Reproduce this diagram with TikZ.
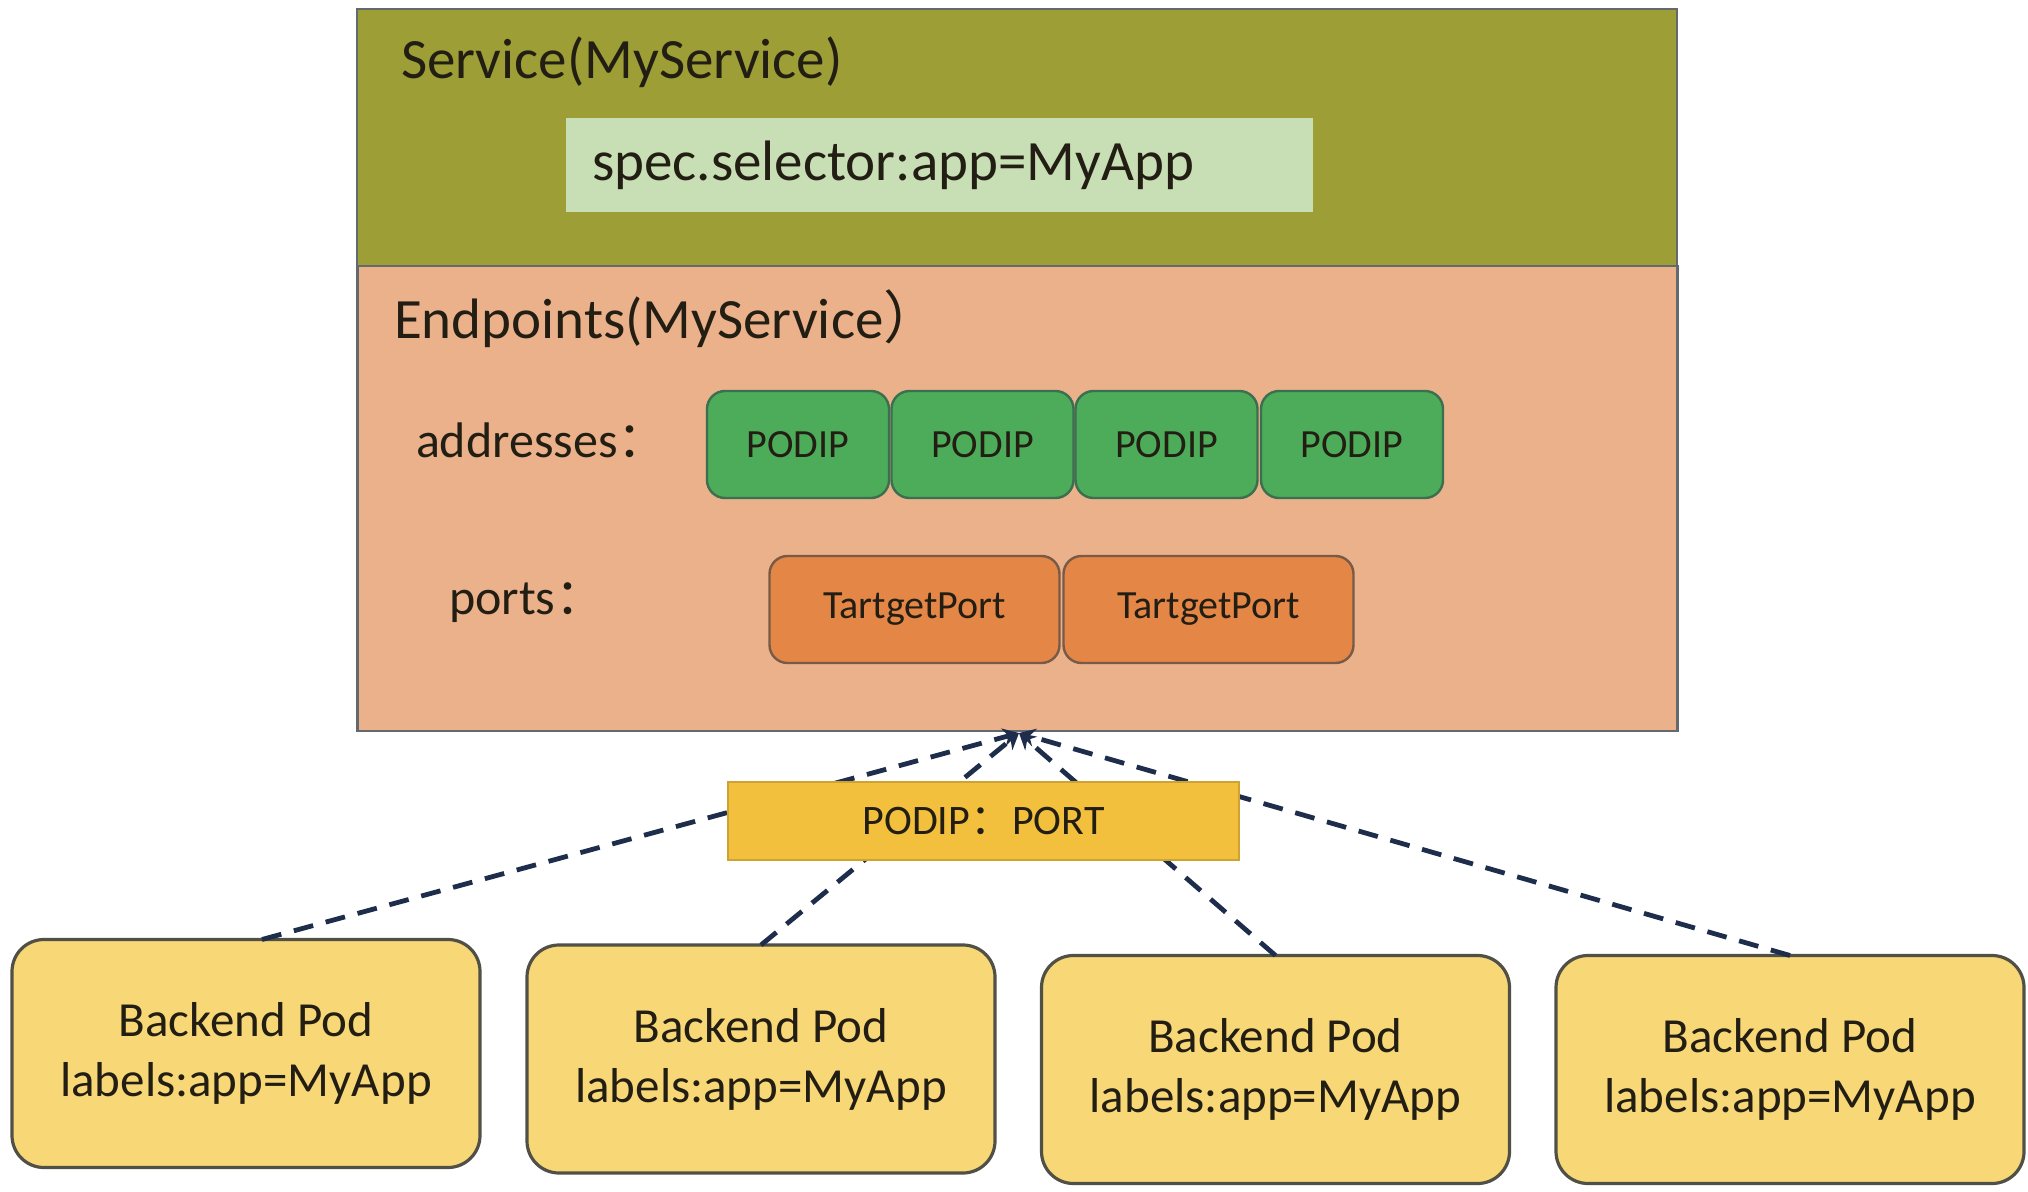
\documentclass[tikz,border=0pt]{standalone}
\usepackage{fontspec}
\setmainfont{Carlito}
\newfontfamily\cjk{Noto Sans CJK SC}
\usetikzlibrary{arrows.meta}
\definecolor{olive}{RGB}{158,158,54}
\definecolor{selfill}{RGB}{200,222,180}
\definecolor{epfill}{RGB}{234,177,138}
\definecolor{greenbox}{RGB}{77,172,90}
\definecolor{greenline}{RGB}{60,110,80}
\definecolor{orangebox}{RGB}{228,134,70}
\definecolor{orangeline}{RGB}{120,90,70}
\definecolor{ppfill}{RGB}{242,192,60}
\definecolor{podfill}{RGB}{247,215,118}
\definecolor{podline}{RGB}{80,80,70}
\definecolor{dashcol}{RGB}{30,45,75}
\definecolor{txt}{RGB}{35,30,20}
\definecolor{frameline}{RGB}{100,105,110}
\begin{document}
\begin{tikzpicture}[x=0.5pt,y=-0.5pt,
  every node/.style={text=txt, inner sep=0pt, outer sep=0pt},
  bigbox/.style={draw=frameline, line width=1.2pt, minimum width=660pt},
  titletext/.style={anchor=west, font=\fontsize{28.5}{34}\selectfont},
  labeltext/.style={anchor=west, font=\fontsize{25}{30}\selectfont},
  podipbox/.style={draw=greenline, line width=1.2pt, fill=greenbox, rounded corners=9pt,
     minimum width=91pt, minimum height=53.5pt, font=\fontsize{20}{24}\selectfont},
  portbox/.style={draw=orangeline, line width=1.2pt, fill=orangebox, rounded corners=9pt,
     minimum width=145pt, minimum height=53.5pt, font=\fontsize{20}{24}\selectfont},
  podbox/.style={draw=podline, line width=1.6pt, fill=podfill, rounded corners=16pt,
     minimum width=234pt, minimum height=114pt, align=center,
     font=\fontsize{24.5}{30}\selectfont},
  link/.style={draw=dashcol, line width=2.4pt, dash pattern=on 10pt off 6.5pt,
     -{Stealth[length=8pt,width=9pt]}}
]
\useasboundingbox (0,0) rectangle (2028,1192);

% Service
\node[bigbox, fill=olive, minimum height=128.5pt] (svc) at (1017,137.5) {};
\node[titletext] (svctitle) at (401,62) {Service(MyService)};
\node[fill=selfill, minimum width=373.5pt, minimum height=47pt, text width=347.5pt,
      align=left, inner xsep=13pt, font=\fontsize{28.5}{34}\selectfont] (sel) at (939.5,165)
      {spec.selector:app=MyApp};

% Endpoints
\node[bigbox, fill=epfill, minimum height=232.5pt] (ep) at (1017.5,498.5) {};
\node[titletext] (eptitle) at (394,319) {Endpoints(MyService{\cjk ）}};
\node[labeltext] (addr) at (416,440) {addresses{\cjk ：}};
\node[labeltext] (ports) at (449,603) {ports{\cjk ：}};

\node[podipbox] (ip1) at (798,444.5) {PODIP};
\node[podipbox] (ip2) at (982.5,444.5) {PODIP};
\node[podipbox] (ip3) at (1166.5,444.5) {PODIP};
\node[podipbox] (ip4) at (1352,444.5) {PODIP};

\node[portbox] (tp1) at (914.5,609.5) {TartgetPort};
\node[portbox] (tp2) at (1208.5,609.5) {TartgetPort};

% Pods
\node[podbox] (pod1) at (246,1053.5) {Backend Pod\\labels:app=MyApp};
\node[podbox] (pod2) at (761,1059) {Backend Pod\\labels:app=MyApp};
\node[podbox] (pod3) at (1275.5,1069.5) {Backend Pod\\labels:app=MyApp};
\node[podbox] (pod4) at (1790,1069.5) {Backend Pod\\labels:app=MyApp};

\coordinate (tip) at (1019,733);
\draw[link] ([xshift=8pt]pod1.north) -- (tip);
\draw[link] (pod2.north) -- (tip);
\draw[link] (pod3.north) -- (tip);
\draw[link] (pod4.north) -- (tip);

\node[fill=ppfill, draw=ppfill!85!black, line width=0.6pt, minimum width=255.5pt,
      minimum height=39pt, font=\fontsize{21}{25}\selectfont] (pp) at (983.5,821)
      {PODIP{\cjk ：}PORT};
\end{tikzpicture}
\end{document}
